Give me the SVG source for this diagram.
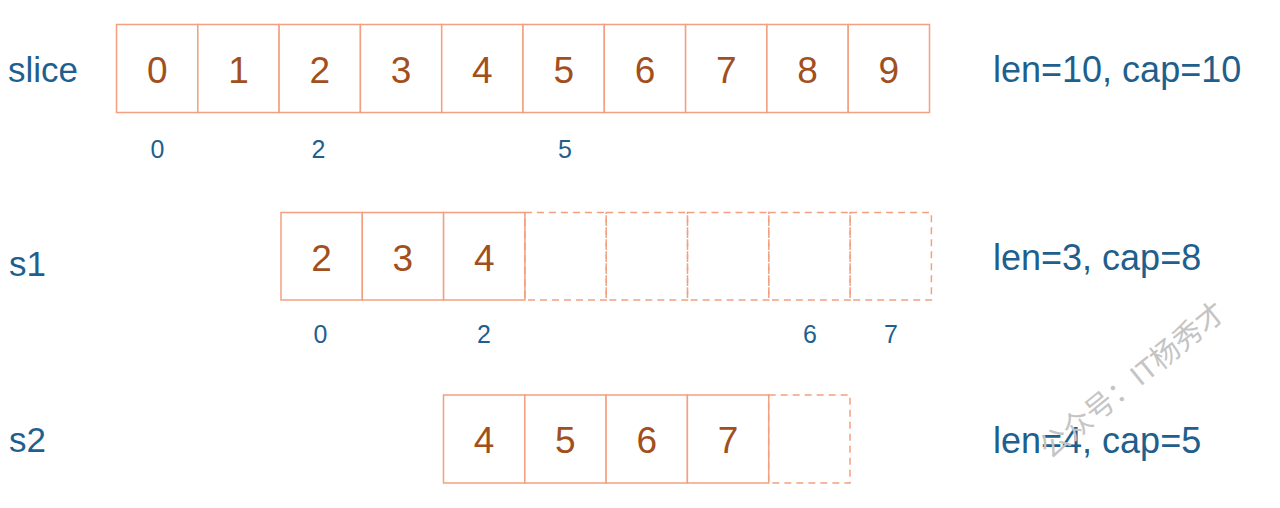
<svg xmlns="http://www.w3.org/2000/svg" width="1280" height="508" viewBox="0 0 1280 508">
<style>
.cell{fill:#ffffff;stroke:#F2A07F;stroke-width:1.5}
.dash{fill:none;stroke:#F2A07F;stroke-width:1.5;stroke-dasharray:7 5}
.v{font-family:"Liberation Sans",Arial,sans-serif;font-size:37px;fill:#A24F1E;text-anchor:middle}
.idx{font-family:"Liberation Sans",Arial,sans-serif;font-size:25px;fill:#1F5F8E;text-anchor:middle}
.lbl{font-family:"Liberation Sans",Arial,sans-serif;font-size:35px;fill:#1F5F8E}
.len{font-family:"Liberation Sans",Arial,sans-serif;font-size:36px;fill:#1F5F8E}
.wm{font-family:"Liberation Sans","Noto Sans CJK SC",sans-serif;font-size:29px;fill:#c4c4c4}
</style>
<rect width="1280" height="508" fill="#ffffff"/>
<g id="connectors"></g>
<g id="slice">
<text class="lbl" x="8" y="82">slice</text>
<rect class="cell" x="116.5" y="24.5" width="81.3" height="88"/>
<rect class="cell" x="197.8" y="24.5" width="81.3" height="88"/>
<rect class="cell" x="279.1" y="24.5" width="81.3" height="88"/>
<rect class="cell" x="360.4" y="24.5" width="81.3" height="88"/>
<rect class="cell" x="441.7" y="24.5" width="81.3" height="88"/>
<rect class="cell" x="523" y="24.5" width="81.3" height="88"/>
<rect class="cell" x="604.3" y="24.5" width="81.3" height="88"/>
<rect class="cell" x="685.6" y="24.5" width="81.3" height="88"/>
<rect class="cell" x="766.9" y="24.5" width="81.3" height="88"/>
<rect class="cell" x="848.2" y="24.5" width="81.3" height="88"/>
<text class="v" x="157.2" y="82.5">0</text>
<text class="v" x="238.5" y="82.5">1</text>
<text class="v" x="319.8" y="82.5">2</text>
<text class="v" x="401.1" y="82.5">3</text>
<text class="v" x="482.4" y="82.5">4</text>
<text class="v" x="563.7" y="82.5">5</text>
<text class="v" x="645" y="82.5">6</text>
<text class="v" x="726.3" y="82.5">7</text>
<text class="v" x="807.6" y="82.5">8</text>
<text class="v" x="888.9" y="82.5">9</text>
<text class="idx" x="157.5" y="158">0</text>
<text class="idx" x="318.5" y="158">2</text>
<text class="idx" x="565" y="158">5</text>
<text class="len" x="993" y="82">len=10, cap=10</text>
</g>
<g id="s1">
<text class="lbl" x="9" y="276">s1</text>
<rect class="cell" x="281" y="212.5" width="81.3" height="87.5"/>
<rect class="cell" x="362.3" y="212.5" width="81.3" height="87.5"/>
<rect class="cell" x="443.6" y="212.5" width="81.3" height="87.5"/>
<rect class="dash" x="524.9" y="212.5" width="81.3" height="87.5"/>
<rect class="dash" x="606.2" y="212.5" width="81.3" height="87.5"/>
<rect class="dash" x="687.5" y="212.5" width="81.3" height="87.5"/>
<rect class="dash" x="768.8" y="212.5" width="81.3" height="87.5"/>
<rect class="dash" x="850.1" y="212.5" width="81.3" height="87.5"/>
<text class="v" x="321.6" y="270.5">2</text>
<text class="v" x="402.9" y="270.5">3</text>
<text class="v" x="484.2" y="270.5">4</text>
<text class="idx" x="320.5" y="343">0</text>
<text class="idx" x="484" y="343">2</text>
<text class="idx" x="810" y="343">6</text>
<text class="idx" x="891" y="343">7</text>
<text class="len" x="993" y="270">len=3, cap=8</text>
</g>
<g id="s2">
<text class="lbl" x="9" y="452">s2</text>
<rect class="cell" x="443.5" y="395" width="81.3" height="88"/>
<rect class="cell" x="524.8" y="395" width="81.3" height="88"/>
<rect class="cell" x="606.1" y="395" width="81.3" height="88"/>
<rect class="cell" x="687.4" y="395" width="81.3" height="88"/>
<rect class="dash" x="768.7" y="395" width="81.3" height="88"/>
<text class="v" x="484.1" y="452.7">4</text>
<text class="v" x="565.4" y="452.7">5</text>
<text class="v" x="646.7" y="452.7">6</text>
<text class="v" x="728" y="452.7">7</text>
<text class="len" x="993" y="453">len=4, cap=5</text>
</g>
<g id="watermark">
<text class="wm" x="0" y="0" transform="translate(1050,460) rotate(-39)">公众号：IT杨秀才</text>
</g>
</svg>
